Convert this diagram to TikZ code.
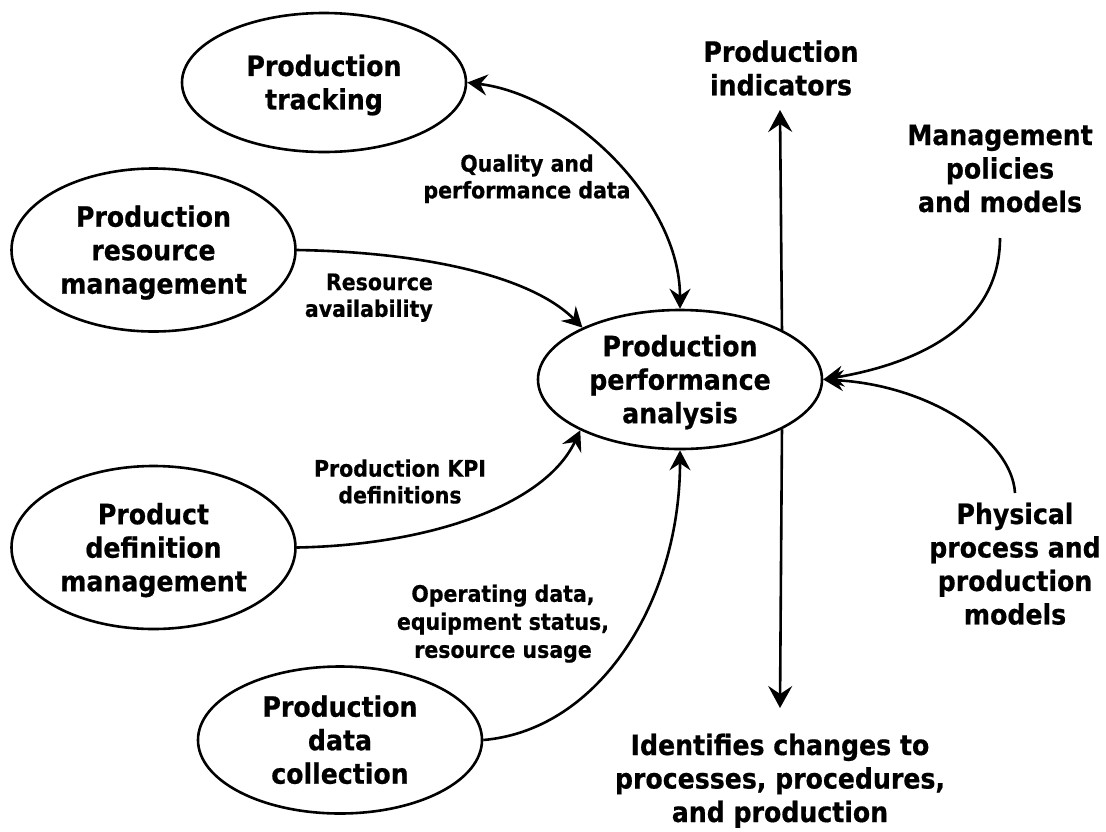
\documentclass[tikz,border=0pt]{standalone}
\usepackage{fontspec}
\setmainfont{DejaVu Sans Condensed}[BoldFont={DejaVu Sans Condensed Bold},BoldFeatures={FakeBold=0.6}]
\usetikzlibrary{arrows.meta,shapes.geometric}
\newcommand\sm[1]{\smash{#1}}
\newcommand\cst{\rule{0pt}{0.729em}}
\newcommand\bigf{\fontsize{28}{33.5}\selectfont\bfseries}
\newcommand\smf{\fontsize{22.8}{26.7}\selectfont\bfseries}
\tikzset{
  bub/.style={ellipse, draw, line width=2.6pt, minimum width=284pt, minimum height=139pt,
              inner sep=0pt, align=center, font=\bigf},
  txt/.style={inner sep=0pt, align=center, font=\bigf},
  lbl/.style={inner sep=0pt, align=center, font=\smf},
  arr/.style={line width=2.6pt, -{Stealth[length=20pt,width=21pt,inset=7pt]}},
  darr/.style={line width=2.6pt, {Stealth[length=20pt,width=21pt,inset=7pt]}-{Stealth[length=20pt,width=21pt,inset=7pt]}},
  varr/.style={line width=2.6pt, -{Stealth[length=22pt,width=24pt,inset=8pt]}}
}
\begin{document}
\begin{tikzpicture}[x=1pt,y=-1pt]
\useasboundingbox (0,0) rectangle (1106,831);

% ellipses
\node[bub] (track) at (324,82.5) {\cst\sm{Production}\\\sm{tracking}};
\node[bub, minimum height=163pt] (res) at (153.5,250) {\cst\sm{Production}\\\sm{resource}\\\sm{management}};
\node[bub, minimum height=163pt] (pdm) at (153.5,547.5) {\cst\sm{Product}\\\sm{definition}\\\sm{management}};
\node[bub, minimum height=147pt] (pdc) at (340,740) {\cst\sm{Production}\\\sm{data}\\\sm{collection}};
\node[bub] (ppa) at (680,379.5) {\cst\sm{Production}\\\sm{performance}\\\sm{analysis}};

% free texts
\node[txt] (ind) at (781,68.3) {\cst\sm{Production}\\\sm{indicators}};
\node[txt] (mgmt) at (1000,168.3) {\cst\sm{Management}\\\sm{policies}\\\sm{and models}};
\node[txt] (phys) at (1015,564) {\cst\sm{Physical}\\\sm{process and}\\\sm{production}\\\sm{models}};
\node[txt] (chg) at (780,778.3) {\cst\sm{Identifies changes to}\\\sm{processes, procedures,}\\\sm{and production}};

% labels
\node[lbl] (lq) at (527,176.7) {\cst\sm{Quality and}\\\sm{performance data}};
\node[lbl, align=right, anchor=east] (lr) at (433,295.2) {\cst\sm{Resource}\\\sm{availability}};
\node[lbl] (lk) at (400,481.7) {\cst\sm{Production KPI}\\\sm{definitions}};
\node[lbl, font=\fontsize{22.8}{28}\selectfont\bfseries] (lo) at (503,621.5) {\cst\sm{Operating data,}\\\sm{equipment status,}\\\sm{resource usage}};

% free ends
\coordinate (indtip) at (780,110);
\coordinate (chgtip) at (780,708);
\coordinate (mgmtout) at (1000,238);
\coordinate (physout) at (1015,493);

% connectors
\draw[darr] (track.east) .. controls (570,95) and (680,200) .. (ppa.north);
\draw[arr] (res.east) .. controls (420,252) and (530,275) .. (ppa.152);
\draw[arr] (pdm.east) .. controls (430,545) and (545,505) .. (ppa.207);
\draw[arr] (pdc.east) .. controls (600,730) and (680,600) .. (ppa.south);
\draw[arr] (mgmtout) .. controls (1000,330) and (910,365) .. (ppa.east);
\draw[arr] (physout) .. controls (1012,440) and (930,385) .. (ppa.east);
\draw[varr] (ppa.26.9) -- (indtip);
\draw[varr] (ppa.-26.9) -- (chgtip);
\end{tikzpicture}
\end{document}
